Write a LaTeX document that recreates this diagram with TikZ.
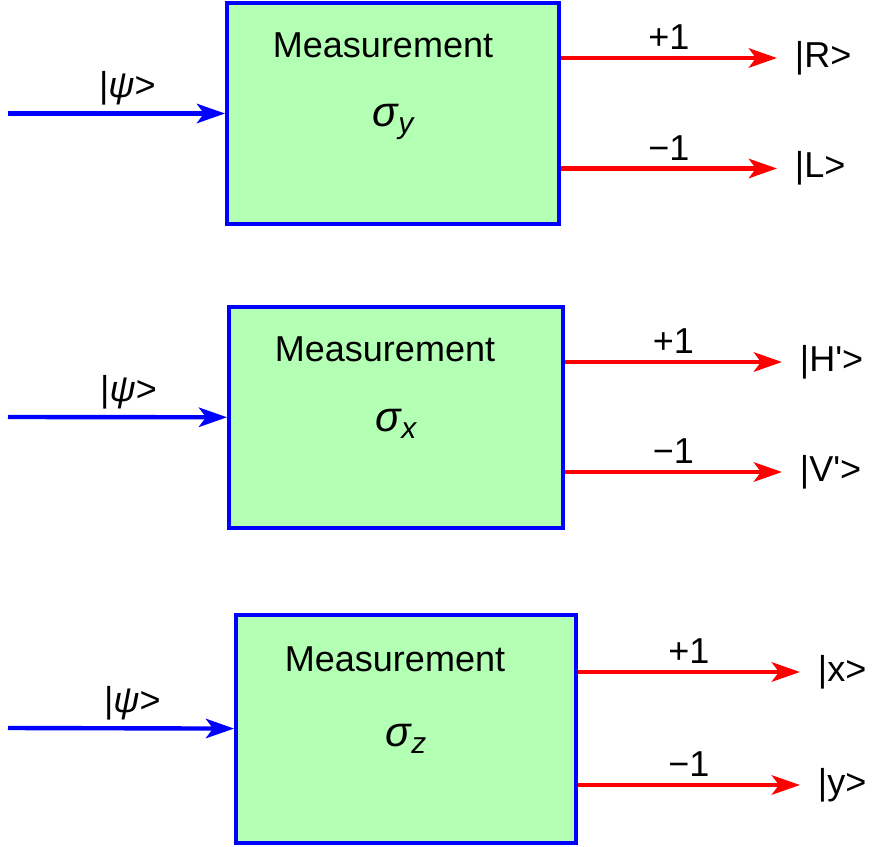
\documentclass[tikz,border=0pt]{standalone}
\usepackage{fontspec}
\setmainfont{Liberation Sans}
\usetikzlibrary{arrows.meta,positioning,calc}
\definecolor{boxgreen}{RGB}{179,255,179}
\newcommand{\sigmaop}[1]{{\fontsize{24}{28}\selectfont\itshape σ}\raisebox{-4pt}{\fontsize{17}{19}\selectfont\itshape #1}}
\newcommand{\ketpsi}{|{\itshape ψ}>}

\begin{document}
\begin{tikzpicture}[
    font=\fontsize{20.5}{24}\selectfont,
    meas/.style={draw=blue, line width=2.2pt, fill=boxgreen},
    inarrow/.style={blue, line width=2.5pt, -{Stealth[length=16pt,width=11pt,inset=4pt]}},
    outarrow/.style={red, line width=2.5pt, -{Stealth[length=16pt,width=11pt,inset=4pt]}},
    ket/.style={anchor=west, inner xsep=10pt}
]
    \useasboundingbox (0,0) rectangle (17.5,-16.92);

    % Measurement of sigma_y
    \node[meas, minimum width=6.64cm, minimum height=4.42cm] (measY) at (7.86,-2.27) {};
    \node (titleY) at ($(measY.north)+(-0.2,-0.88)$) {Measurement};
    \node[anchor=base] (opY) at ($(measY.center)+(0,-0.26)$) {\sigmaop{y}};
    \coordinate (inY) at (0.16,-2.27);
    \draw[inarrow] (inY) -- node[above, pos=0.55, black] (psiY) {\ketpsi} (measY);
    \node[ket] (ketR) at (15.54,-1.16) {|R>};
    \node[ket] (ketL) at (15.54,-3.37) {|L>};
    \draw[outarrow] (measY.east |- ketR) -- node[above, black] (plusY) {+1} (ketR);
    \draw[outarrow] (measY.east |- ketL) -- node[above, black] (minusY) {−1} (ketL);

    % Measurement of sigma_x
    \node[meas, minimum width=6.68cm, minimum height=4.42cm] (measX) at (7.92,-8.35) {};
    \node (titleX) at ($(measX.north)+(-0.22,-0.88)$) {Measurement};
    \node[anchor=base] (opX) at ($(measX.center)+(0,-0.27)$) {\sigmaop{x}};
    \coordinate (inX) at (0.16,-8.34);
    \draw[inarrow] (inX) -- node[above, pos=0.55, black] (psiX) {\ketpsi} (measX);
    \node[ket] (ketH) at (15.64,-7.24) {|H\textquotesingle>};
    \node[ket] (ketV) at (15.64,-9.44) {|V\textquotesingle>};
    \draw[outarrow] (measX.east |- ketH) -- node[above, black] (plusX) {+1} (ketH);
    \draw[outarrow] (measX.east |- ketV) -- node[above, black] (minusX) {−1} (ketV);

    % Measurement of sigma_z
    \node[meas, minimum width=6.80cm, minimum height=4.56cm] (measZ) at (8.12,-14.58) {};
    \node (titleZ) at ($(measZ.north)+(-0.22,-0.92)$) {Measurement};
    \node[anchor=base] (opZ) at ($(measZ.center)+(0,-0.34)$) {\sigmaop{z}};
    \coordinate (inZ) at (0.16,-14.56);
    \draw[inarrow] (inZ) -- node[above, pos=0.55, black] (psiZ) {\ketpsi} (measZ);
    \node[ket] (ketx) at (16.0,-13.44) {|x>};
    \node[ket] (kety) at (16.0,-15.70) {|y>};
    \draw[outarrow] (measZ.east |- ketx) -- node[above, black] (plusZ) {+1} (ketx);
    \draw[outarrow] (measZ.east |- kety) -- node[above, black] (minusZ) {−1} (kety);
\end{tikzpicture}
\end{document}
